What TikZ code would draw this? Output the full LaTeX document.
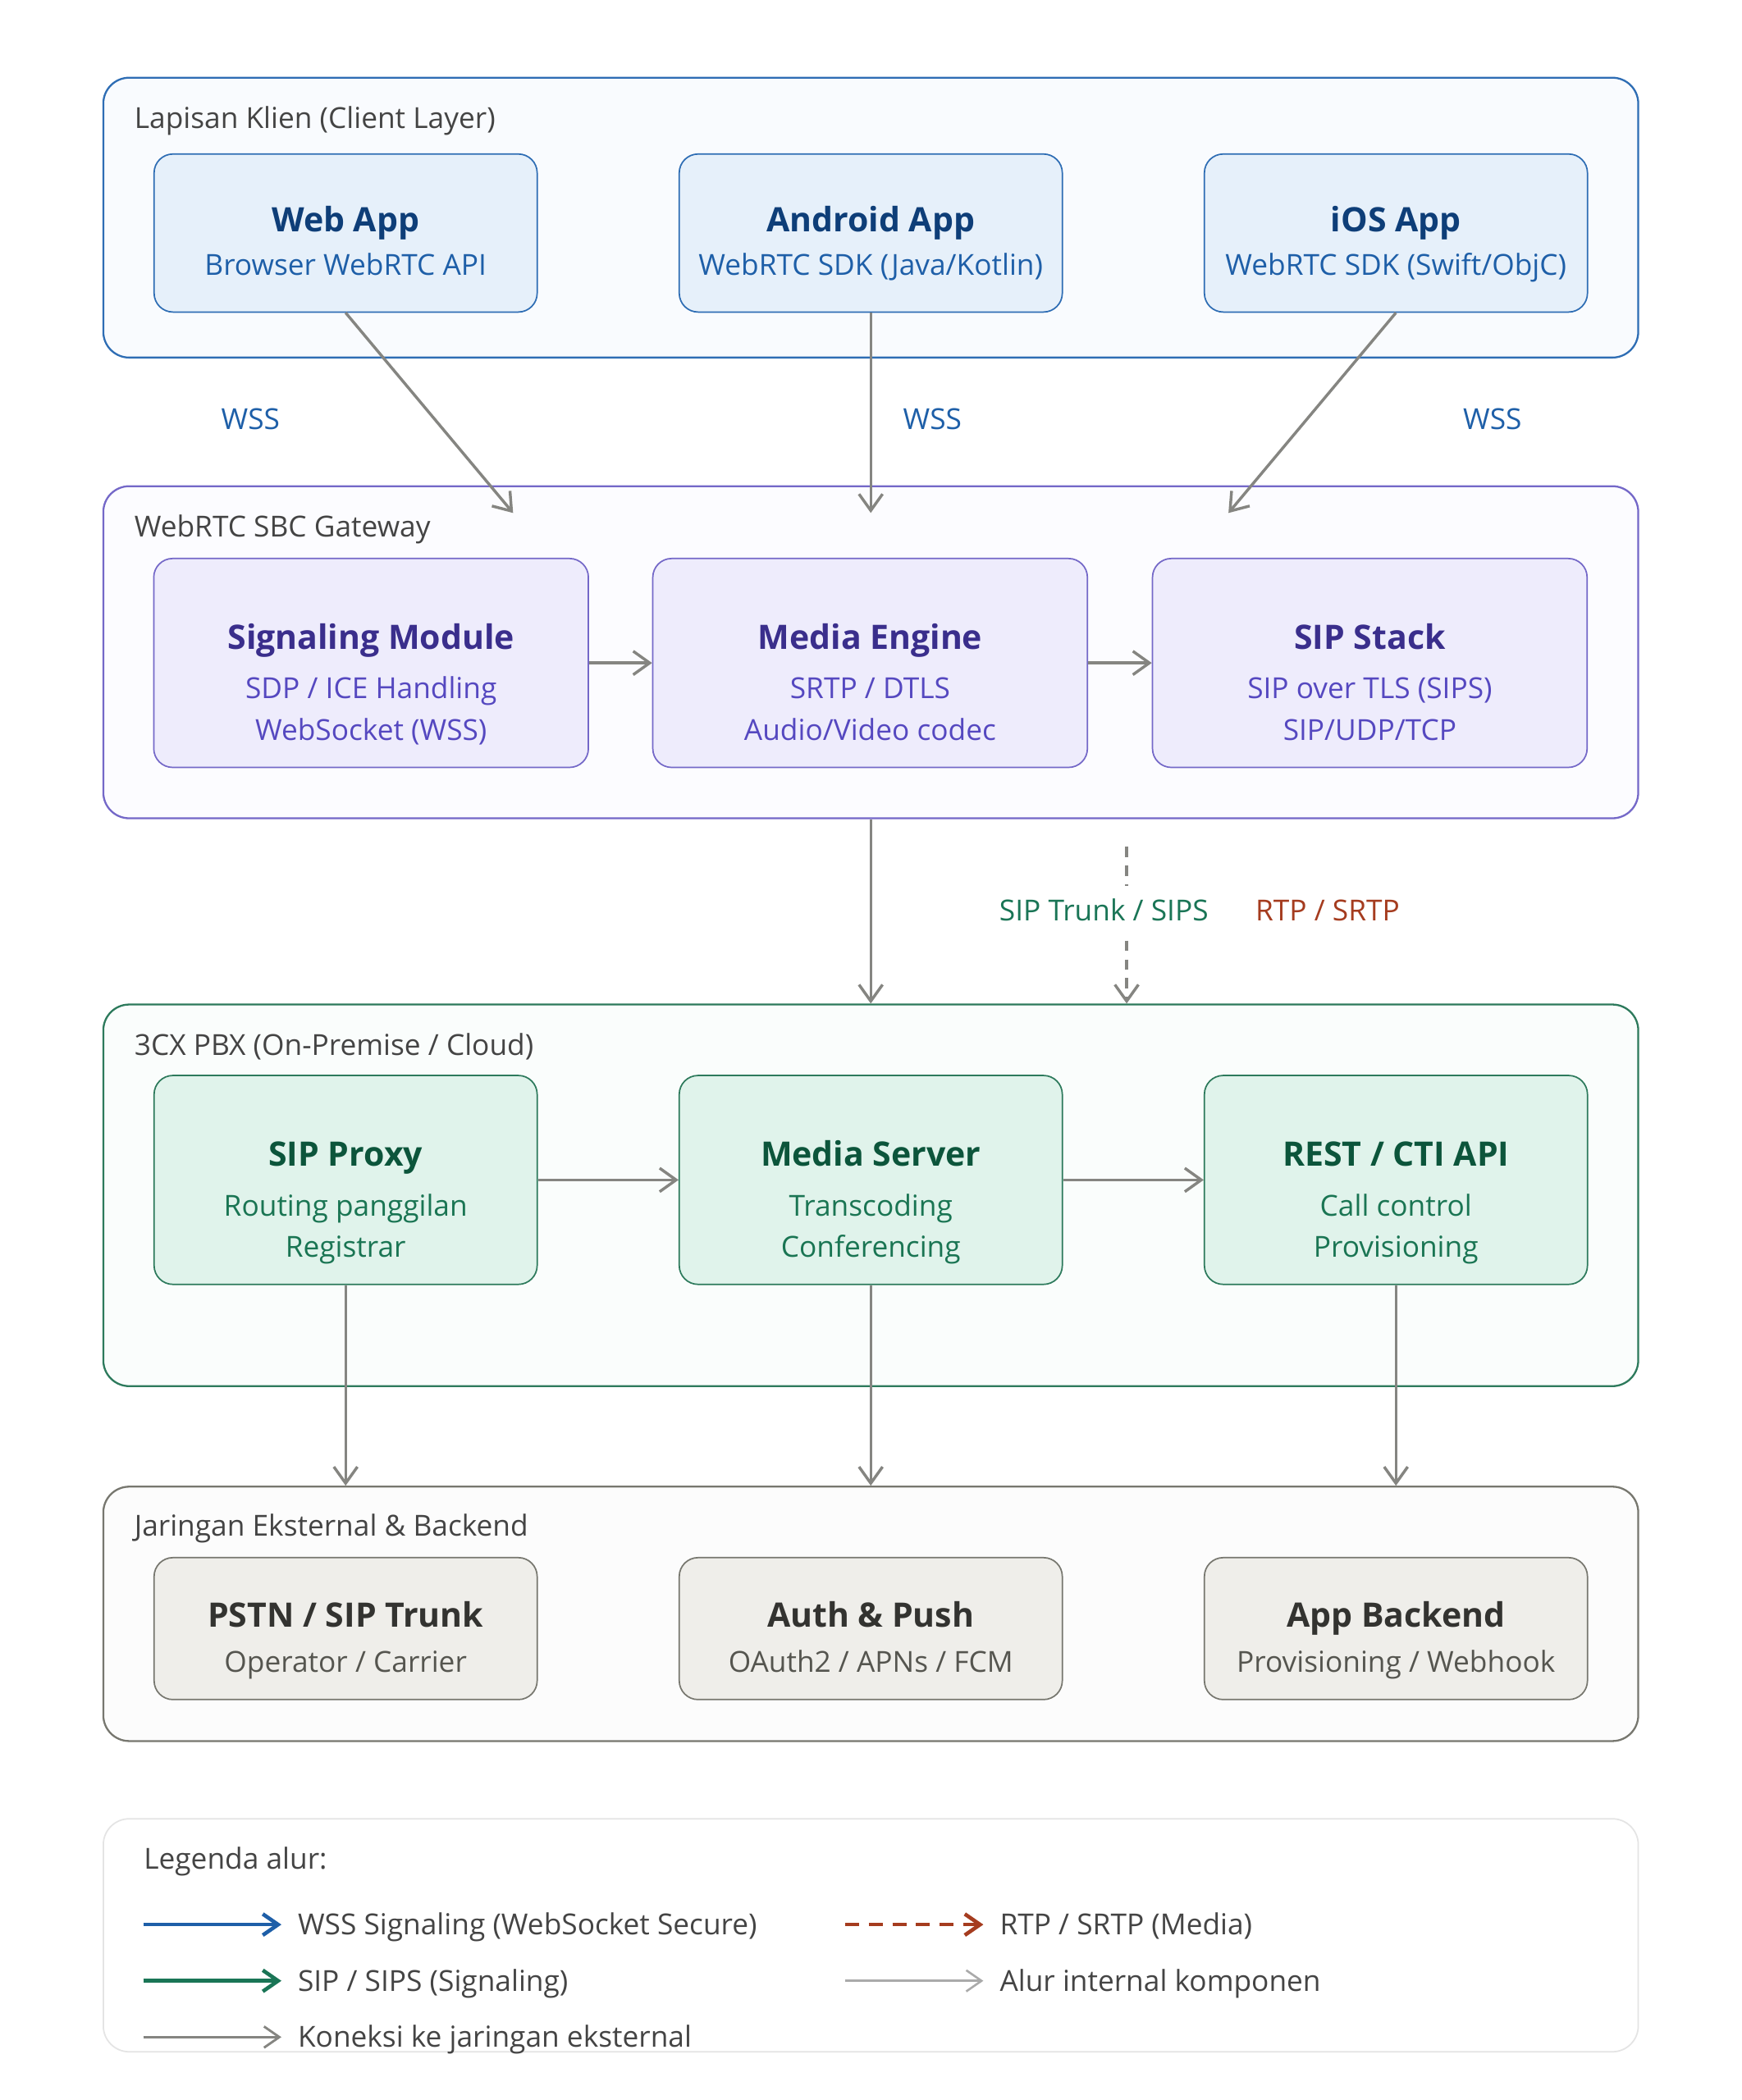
\documentclass[tikz,border=0pt]{standalone}
\usepackage{fontspec}
\setmainfont{Open Sans}
\usetikzlibrary{arrows.meta}

\definecolor{cliLine}{HTML}{2E6DB4}
\definecolor{cliBg}{HTML}{F9FBFE}
\definecolor{cliFill}{HTML}{E6F0FA}
\definecolor{cliHead}{HTML}{0E3E78}
\definecolor{cliText}{HTML}{1E5FA8}
\definecolor{gwLine}{HTML}{7468C8}
\definecolor{gwBg}{HTML}{FCFCFF}
\definecolor{gwFill}{HTML}{EEECFC}
\definecolor{gwHead}{HTML}{3A2E8C}
\definecolor{gwText}{HTML}{5548C0}
\definecolor{pbxLine}{HTML}{2D7A5C}
\definecolor{pbxBg}{HTML}{FAFDFC}
\definecolor{pbxFill}{HTML}{E0F3EB}
\definecolor{pbxHead}{HTML}{0C553B}
\definecolor{pbxText}{HTML}{1A7553}
\definecolor{extLine}{HTML}{77776F}
\definecolor{extBg}{HTML}{FCFCFC}
\definecolor{extFill}{HTML}{EFEEEA}
\definecolor{extHead}{HTML}{333330}
\definecolor{extText}{HTML}{55554F}
\definecolor{legLine}{HTML}{E4E4E4}
\definecolor{labelGray}{HTML}{444444}
\definecolor{flowGray}{HTML}{858581}
\definecolor{lightGray}{HTML}{AAAAAA}
\definecolor{wssBlue}{HTML}{1E5FA8}
\definecolor{sipGreen}{HTML}{1A7556}
\definecolor{rtpRed}{HTML}{A53C1F}

\begin{document}
\begin{tikzpicture}[x=0.02cm,y=-0.02cm,
    font=\fontsize{12.3}{17.6}\selectfont,
    line1/.style={text height=8.8pt,text depth=0pt},
    line2/.style={text height=26.4pt,text depth=0pt,align=center},
    tier/.style={draw,rounded corners=11pt,line width=0.8pt,minimum width=22.92cm},
    tierlabel/.style={line1,anchor=west,inner sep=0pt,text=labelGray},
    comp/.style={draw,rounded corners=8pt,line width=0.6pt},
    headtxt/.style={font=\fontsize{14.3}{17}\selectfont\bfseries,text height=10.2pt,text depth=0pt},
    cbox/.style={comp,draw=cliLine,fill=cliFill,minimum width=5.72cm,minimum height=2.36cm},
    ctitle/.style={headtxt,text=cliHead},
    csub/.style={line1,text=cliText},
    gbox/.style={comp,draw=gwLine,fill=gwFill,minimum width=6.49cm,minimum height=3.12cm},
    gtitle/.style={headtxt,text=gwHead},
    gsub/.style={line2,text=gwText},
    pbox/.style={comp,draw=pbxLine,fill=pbxFill,minimum width=5.72cm,minimum height=3.12cm},
    ptitle/.style={headtxt,text=pbxHead},
    psub/.style={line2,text=pbxText},
    xbox/.style={comp,draw=extLine,fill=extFill,minimum width=5.72cm,minimum height=2.12cm},
    xtitle/.style={headtxt,text=extHead},
    xsub/.style={line1,text=extText},
    conn/.style={draw=flowGray,line width=1.2pt,-{Straight Barb[length=7pt,width=10pt]}},
    keytxt/.style={line1,anchor=west,inner sep=0pt,text=labelGray},
    keywss/.style={draw=wssBlue,line width=1.6pt,-{Straight Barb[length=6.5pt,width=9pt]},shorten >=6.8pt},
    keysip/.style={draw=sipGreen,line width=1.6pt,-{Straight Barb[length=6.5pt,width=9pt]},shorten >=6.8pt},
    keyrtp/.style={draw=rtpRed,line width=1.6pt,dash pattern=on 6pt off 4pt,-{Straight Barb[length=6.5pt,width=9pt]},shorten >=6.8pt},
    keyint/.style={draw=lightGray,line width=0.9pt,-{Straight Barb[length=6.5pt,width=9pt]},shorten >=6.8pt},
    keyext/.style={draw=flowGray,line width=1pt,-{Straight Barb[length=6.5pt,width=9pt]},shorten >=6.8pt},
  ]
\useasboundingbox (0,0) rectangle (1300,1568);
\fill[white] (0,0) rectangle (1300,1568);

% client layer
\node[tier,draw=cliLine,fill=cliBg,minimum height=4.18cm] (client) at (650,162.5) {};
\node[tierlabel] (clientLbl) at (100,88) {Lapisan Klien (Client Layer)};
\node[cbox] (web) at (258,174) {};
\node[ctitle] (webT) at (258,164) {Web App};
\node[csub] (webS) at (258,198) {Browser WebRTC API};
\node[cbox] (android) at (650,174) {};
\node[ctitle] (androidT) at (650,164) {Android App};
\node[csub] (androidS) at (650,198) {WebRTC SDK (Java/Kotlin)};
\node[cbox] (ios) at (1042,174) {};
\node[ctitle] (iosT) at (1042,164) {iOS App};
\node[csub] (iosS) at (1042,198) {WebRTC SDK (Swift/ObjC)};

% gateway
\node[tier,draw=gwLine,fill=gwBg,minimum height=4.96cm] (gw) at (650,487) {};
\node[tierlabel] (gwLbl) at (100,393) {WebRTC SBC Gateway};
\node[gbox] (sig) at (277,495) {};
\node[gtitle] (sigT) at (277,476) {Signaling Module};
\node[gsub] (sigS) at (277,529.5) {SDP / ICE Handling\\WebSocket (WSS)};
\node[gbox] (media) at (649.5,495) {};
\node[gtitle] (mediaT) at (649.5,476) {Media Engine};
\node[gsub] (mediaS) at (649.5,529.5) {SRTP / DTLS\\Audio/Video codec};
\node[gbox] (sip) at (1022.5,495) {};
\node[gtitle] (sipT) at (1022.5,476) {SIP Stack};
\node[gsub] (sipS) at (1022.5,529.5) {SIP over TLS (SIPS)\\SIP/UDP/TCP};

% pbx
\node[tier,draw=pbxLine,fill=pbxBg,minimum height=5.7cm] (pbx) at (650,892.5) {};
\node[tierlabel] (pbxLbl) at (100,780) {3CX PBX (On-Premise / Cloud)};
\node[pbox] (proxy) at (258,881) {};
\node[ptitle] (proxyT) at (258,862) {SIP Proxy};
\node[psub] (proxyS) at (258,915.5) {Routing panggilan\\Registrar};
\node[pbox] (mserv) at (650,881) {};
\node[ptitle] (mservT) at (650,862) {Media Server};
\node[psub] (mservS) at (650,915.5) {Transcoding\\Conferencing};
\node[pbox] (rest) at (1042,881) {};
\node[ptitle] (restT) at (1042,862) {REST / CTI API};
\node[psub] (restS) at (1042,915.5) {Call control\\Provisioning};

% external
\node[tier,draw=extLine,fill=extBg,minimum height=3.8cm] (ext) at (650,1205) {};
\node[tierlabel] (extLbl) at (100,1139) {Jaringan Eksternal \& Backend};
\node[xbox] (pstn) at (258,1216) {};
\node[xtitle] (pstnT) at (258,1206) {PSTN / SIP Trunk};
\node[xsub] (pstnS) at (258,1241) {Operator / Carrier};
\node[xbox] (auth) at (650,1216) {};
\node[xtitle] (authT) at (650,1206) {Auth \& Push};
\node[xsub] (authS) at (650,1241) {OAuth2 / APNs / FCM};
\node[xbox] (backend) at (1042,1216) {};
\node[xtitle] (backendT) at (1042,1206) {App Backend};
\node[xsub] (backendS) at (1042,1241) {Provisioning / Webhook};

% connectors
\coordinate (gwIn1) at (383,383);
\coordinate (gwIn2) at (650,383);
\coordinate (gwIn3) at (917,383);
\draw[conn] (web.south) -- (gwIn1);
\draw[conn] (android.south) -- (gwIn2);
\draw[conn] (ios.south) -- (gwIn3);
\node[line1,text=wssBlue] (wss1) at (187,313) {WSS};
\node[line1,text=wssBlue] (wss2) at (696,313) {WSS};
\node[line1,text=wssBlue] (wss3) at (1114,313) {WSS};

\draw[conn] (sig) -- (media);
\draw[conn] (media) -- (sip);

\draw[conn] (gw) -- (pbx);
\coordinate (rtpTop) at (841,632);
\draw[conn,dash pattern=on 4.5pt off 3.5pt] (rtpTop) -- (rtpTop |- pbx.north);
\node[line1,fill=white,inner ysep=6pt,text=sipGreen] (trunkLbl) at (824,680) {SIP Trunk / SIPS};
\node[line1,text=rtpRed] (rtpLbl) at (991,680) {RTP / SRTP};

\draw[conn] (proxy) -- (mserv);
\draw[conn] (mserv) -- (rest);
\draw[conn] (proxy) -- (proxy |- ext.north);
\draw[conn] (mserv) -- (mserv |- ext.north);
\draw[conn] (rest) -- (rest |- ext.north);

% legend
\node[tier,draw=legLine,fill=white,line width=0.6pt,minimum height=3.48cm] (legend) at (650,1445) {};
\node[keytxt] (legTitle) at (107,1388) {Legenda alur:};
\coordinate (k1) at (107,1437);
\coordinate (k2) at (107,1479);
\coordinate (k3) at (107,1521);
\coordinate (k4) at (631,1437);
\coordinate (k5) at (631,1479);
\node[keytxt] (t1) at (222,1437) {WSS Signaling (WebSocket Secure)};
\node[keytxt] (t2) at (222,1479) {SIP / SIPS (Signaling)};
\node[keytxt] (t3) at (222,1521) {Koneksi ke jaringan eksternal};
\node[keytxt] (t4) at (746,1437) {RTP / SRTP (Media)};
\node[keytxt] (t5) at (746,1479) {Alur internal komponen};
\draw[keywss] (k1) -- (t1.west);
\draw[keysip] (k2) -- (t2.west);
\draw[keyext] (k3) -- (t3.west);
\draw[keyrtp] (k4) -- (t4.west);
\draw[keyint] (k5) -- (t5.west);
\end{tikzpicture}
\end{document}
